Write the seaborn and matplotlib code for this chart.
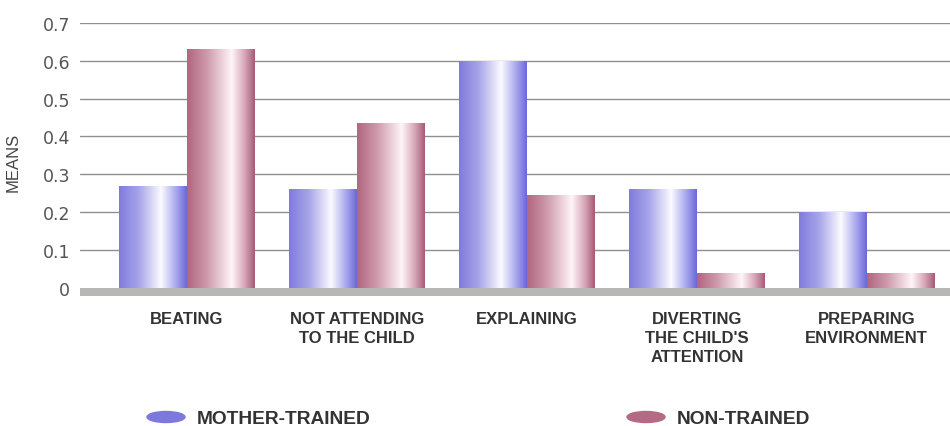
import numpy as np
import pandas as pd
import matplotlib
matplotlib.use("Agg")
import matplotlib.pyplot as plt
from matplotlib.patches import Ellipse
from matplotlib.colors import LinearSegmentedColormap
import seaborn as sns

# Coping behaviours and mean scores per group
categories = ["BEATING", "NOT ATTENDING\nTO THE CHILD", "EXPLAINING",
              "DIVERTING\nTHE CHILD'S\nATTENTION", "PREPARING\nENVIRONMENT"]
groups = ["MOTHER-TRAINED", "NON-TRAINED"]
mother_trained = [0.27, 0.26, 0.60, 0.26, 0.20]
non_trained = [0.63, 0.435, 0.245, 0.04, 0.04]
y_ticks = [0, 0.1, 0.2, 0.3, 0.4, 0.5, 0.6, 0.7]
y_tick_labels = ["0", "0.1", "0.2", "0.3", "0.4", "0.5", "0.6", "0.7"]

df = pd.DataFrame({
    "behaviour": categories * 2,
    "group": [groups[0]] * len(categories) + [groups[1]] * len(categories),
    "mean": mother_trained + non_trained,
})

sns.set_theme(style="white")
plt.rcParams["font.family"] = ["Liberation Sans", "DejaVu Sans"]

fig = plt.figure(figsize=(9.5, 4.27), dpi=100)
ax = fig.add_axes([80 / 950, 1 - 297 / 427, 870 / 950, 273 / 427])

base_colors = {groups[0]: "#8d89e2", groups[1]: "#c07f96"}
sns.barplot(data=df, x="behaviour", y="mean", hue="group", hue_order=groups,
            order=categories, palette=base_colors, width=0.8, gap=0,
            errorbar=None, legend=False, ax=ax, zorder=3, linewidth=0)

# Cylindrical shading for each bar
shades = {
    0: LinearSegmentedColormap.from_list("blue_shine", [
        (0.00, "#7f7bdc"), (0.30, "#a9a6ea"), (0.62, "#fbfbff"),
        (0.86, "#a2a0ec"), (1.00, "#6c67d8")]),
    1: LinearSegmentedColormap.from_list("pink_shine", [
        (0.00, "#b0667f"), (0.30, "#cf9bad"), (0.66, "#fff5f9"),
        (0.86, "#d5a2b4"), (1.00, "#a65a76")]),
}
grad = np.linspace(0, 1, 256).reshape(1, -1)
for gi, container in enumerate(ax.containers):
    for bar in container.patches:
        x0, w, h = bar.get_x(), bar.get_width(), bar.get_height()
        im = ax.imshow(grad, cmap=shades[gi], aspect="auto",
                       extent=[x0, x0 + w, 0, h], zorder=3.5,
                       interpolation="bilinear")
        im.set_clip_path(bar)

# Gray floor under the bars
ax.axhspan(-0.022, 0, color="#b7b7b5", zorder=4, linewidth=0)

ax.set_xlim(-0.63, 4.49)
ax.set_ylim(-0.022, 0.70)
ax.set_yticks(y_ticks)
ax.set_yticklabels(y_tick_labels)
for y in y_ticks[1:]:
    ax.axhline(y, color="#8f8f8f", linewidth=1.0, zorder=1)

for s in ax.spines.values():
    s.set_visible(False)
ax.grid(False)
ax.tick_params(axis="y", length=0, pad=7, labelsize=12.5, labelcolor="#555555")
ax.tick_params(axis="x", length=0, pad=10.5)
for lbl in ax.get_yticklabels():
    lbl.set_family(["DejaVu Sans"])
for lbl in ax.get_xticklabels():
    lbl.set_fontsize(12)
    lbl.set_fontweight("bold")
    lbl.set_color("#333333")
    lbl.set_linespacing(1.35)

ax.set_xlabel("")
ax.set_ylabel("MEANS", fontsize=12, color="#444444", labelpad=0)
ax.yaxis.set_label_coords(-59 / 870, 0.494)

# Legend along the bottom edge
legend_items = [(groups[0], "#7d78dd", 166, 197), (groups[1], "#b46a85", 646, 677)]
for name, col, cx, tx in legend_items:
    fig.add_artist(Ellipse((cx / 100, 9 / 100), 0.38, 0.11,
                           transform=fig.dpi_scale_trans, color=col))
    fig.text(tx / 950, 2.5 / 427, name, fontsize=13.8, fontweight="bold",
             color="#333333", va="baseline", ha="left")

fig.savefig("out.png", dpi=100, facecolor="white")
